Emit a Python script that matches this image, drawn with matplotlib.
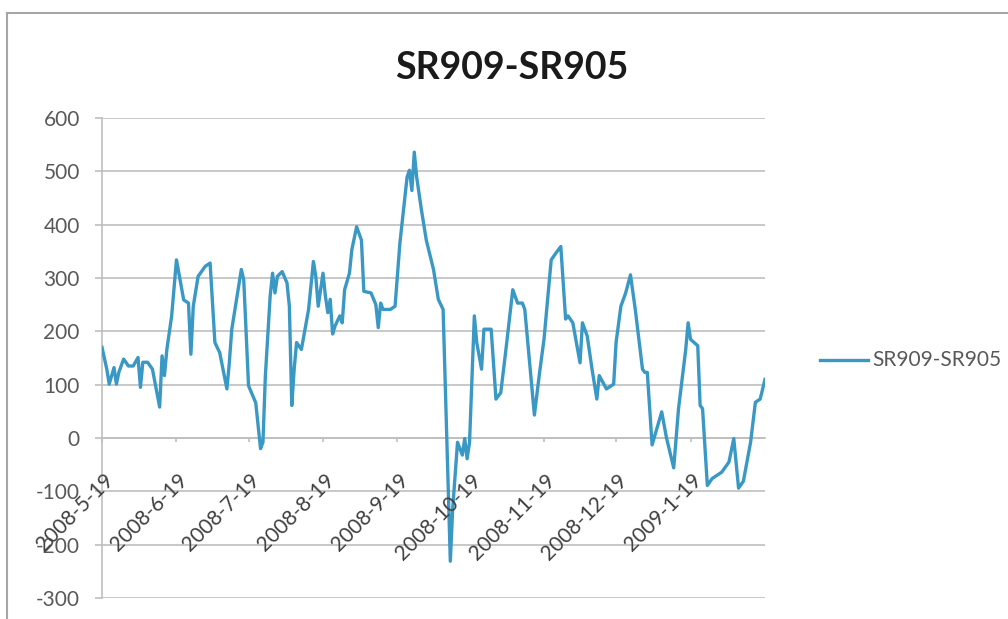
import matplotlib
matplotlib.use("Agg")
import matplotlib.pyplot as plt
import matplotlib.dates as mdates
from matplotlib.lines import Line2D
from matplotlib.transforms import ScaledTranslation
import pandas as pd

plt.rcParams["font.family"] = ["Lato", "DejaVu Sans"]
plt.rcParams["axes.unicode_minus"] = False

series_name = "SR909-SR905"

dates = [
    "2008-05-19", "2008-05-21", "2008-05-22", "2008-05-24", "2008-05-25", "2008-05-26",
    "2008-05-28", "2008-05-30", "2008-06-01", "2008-06-03", "2008-06-04", "2008-06-05",
    "2008-06-07", "2008-06-09", "2008-06-12", "2008-06-13", "2008-06-14", "2008-06-15",
    "2008-06-17", "2008-06-19", "2008-06-20", "2008-06-22", "2008-06-24", "2008-06-25",
    "2008-06-26", "2008-06-28", "2008-07-01", "2008-07-03", "2008-07-05", "2008-07-07",
    "2008-07-10", "2008-07-11", "2008-07-12", "2008-07-16", "2008-07-17", "2008-07-19",
    "2008-07-22", "2008-07-24", "2008-07-25", "2008-07-26", "2008-07-28", "2008-07-29",
    "2008-07-30", "2008-07-31", "2008-08-02", "2008-08-04", "2008-08-05", "2008-08-06",
    "2008-08-07", "2008-08-08", "2008-08-10", "2008-08-13", "2008-08-15", "2008-08-16",
    "2008-08-17", "2008-08-19", "2008-08-20", "2008-08-21", "2008-08-22", "2008-08-23",
    "2008-08-24", "2008-08-26", "2008-08-27", "2008-08-28", "2008-08-30", "2008-08-31",
    "2008-09-02", "2008-09-04", "2008-09-05", "2008-09-08", "2008-09-10", "2008-09-11",
    "2008-09-12", "2008-09-13", "2008-09-16", "2008-09-18", "2008-09-20", "2008-09-23",
    "2008-09-24", "2008-09-25", "2008-09-26", "2008-09-27", "2008-09-29", "2008-10-01",
    "2008-10-04", "2008-10-06", "2008-10-08", "2008-10-11", "2008-10-12", "2008-10-14",
    "2008-10-16", "2008-10-17", "2008-10-18", "2008-10-19", "2008-10-21", "2008-10-22",
    "2008-10-24", "2008-10-25", "2008-10-28", "2008-10-30", "2008-11-01", "2008-11-03",
    "2008-11-06", "2008-11-08", "2008-11-10", "2008-11-11", "2008-11-15", "2008-11-17",
    "2008-11-19", "2008-11-22", "2008-11-24", "2008-11-26", "2008-11-28", "2008-11-29",
    "2008-12-01", "2008-12-04", "2008-12-05", "2008-12-07", "2008-12-09", "2008-12-11",
    "2008-12-12", "2008-12-15", "2008-12-18", "2008-12-19", "2008-12-21", "2008-12-23",
    "2008-12-25", "2008-12-27", "2008-12-30", "2008-12-31", "2009-01-01", "2009-01-03",
    "2009-01-05", "2009-01-07", "2009-01-09", "2009-01-12", "2009-01-14", "2009-01-17",
    "2009-01-18", "2009-01-19", "2009-01-22", "2009-01-23", "2009-01-24", "2009-01-26",
    "2009-01-28", "2009-02-01", "2009-02-04", "2009-02-06", "2009-02-08", "2009-02-10",
    "2009-02-13", "2009-02-15", "2009-02-17", "2009-02-19",
]

spread = [
    170, 129, 101, 132, 101, 123,
    148, 135, 135, 151, 95, 142,
    142, 129, 58, 154, 117, 166,
    229, 334, 309, 259, 253, 157,
    247, 303, 322, 328, 179, 160,
    92, 141, 203, 316, 297, 98,
    66, -20, -8, 116, 266, 309,
    272, 303, 312, 291, 247, 61,
    129, 179, 166, 241, 331, 303,
    247, 309, 266, 235, 260, 195,
    210, 229, 216, 278, 309, 353,
    396, 371, 275, 272, 250, 207,
    253, 241, 241, 247, 365, 489,
    502, 464, 536, 489, 427, 371,
    316, 260, 241, -231, -132, -8,
    -32, -1, -39, -8, 229, 179,
    129, 204, 204, 73, 85, 160,
    278, 253, 253, 241, 43, 117,
    185, 334, 347, 359, 223, 229,
    216, 141, 216, 191, 129, 73,
    117, 92, 101, 179, 247, 272,
    306, 241, 129, 123, 123, -13,
    18, 49, 0, -56, 55, 166,
    216, 185, 173, 61, 55, -89,
    -76, -64, -45, -1, -94, -81,
    -8, 67, 73, 110,
]

tick_dates = ["2008-05-19", "2008-06-19", "2008-07-19", "2008-08-19", "2008-09-19",
              "2008-10-19", "2008-11-19", "2008-12-19", "2009-01-19"]
tick_labels = ["2008-5-19", "2008-6-19", "2008-7-19", "2008-8-19", "2008-9-19",
               "2008-10-19", "2008-11-19", "2008-12-19", "2009-1-19"]
y_ticks = [-300, -200, -100, 0, 100, 200, 300, 400, 500, 600]

line_color = "#3a98c4"
grid_color = "#bfbfbf"
text_color = "#595959"

W, H = 1008, 619
fig = plt.figure(figsize=(W / 100, H / 100), dpi=100)
ax = fig.add_axes([102 / W, 21 / H, 663 / W, 480 / H])

x = pd.to_datetime(dates)
ax.plot(x, spread, color=line_color, lw=2.4, solid_joinstyle="round", zorder=3)

ax.set_ylim(-300, 600)
ax.set_yticks(y_ticks)
ax.set_xlim(x[0], x[-1])

ax.yaxis.grid(True, color=grid_color, lw=1.2)
ax.set_axisbelow(True)

for side in ("top", "right"):
    ax.spines[side].set_visible(False)
ax.spines["left"].set_color(grid_color)
ax.spines["left"].set_linewidth(1.2)
ax.spines["bottom"].set_position(("data", 0))
ax.spines["bottom"].set_color(grid_color)
ax.spines["bottom"].set_linewidth(1.2)

ax.tick_params(axis="y", direction="out", length=5, width=1.2, color=grid_color,
               pad=11, labelsize=15, labelcolor=text_color)

tick_x = pd.to_datetime(tick_dates)
ax.set_xticks(tick_x)
ax.tick_params(axis="x", direction="out", length=3, width=1.2, color=grid_color,
               labelbottom=False)

# rotated date labels hanging below the zero line
offset = ScaledTranslation(1 / 100, -32 / 100, fig.dpi_scale_trans)
for d, lab in zip(tick_x, tick_labels):
    ax.text(mdates.date2num(d), 0, lab, transform=ax.transData + offset,
            rotation=45, rotation_mode="anchor", ha="right", va="top",
            fontsize=15, color="#404040", clip_on=False)

fig.text(512 / W, 1 - 79 / H, series_name, ha="center", va="baseline",
         fontsize=27, fontweight="bold", color="#1a1a1a")

# legend entry
ly = 1 - 360 / H
fig.add_artist(Line2D([820 / W, 868 / W], [ly, ly], transform=fig.transFigure,
                      color=line_color, lw=2.4))
fig.text(872 / W, ly, series_name, ha="left", va="center", fontsize=15,
         color=text_color)

# chart frame
fig.add_artist(Line2D([7 / W, 1], [1 - 13 / H] * 2, transform=fig.transFigure,
                      color="#a6a6a6", lw=1.5))
fig.add_artist(Line2D([7 / W, 7 / W], [0, 1 - 13 / H], transform=fig.transFigure,
                      color="#a6a6a6", lw=1.5))

fig.savefig("out.png", dpi=100)
